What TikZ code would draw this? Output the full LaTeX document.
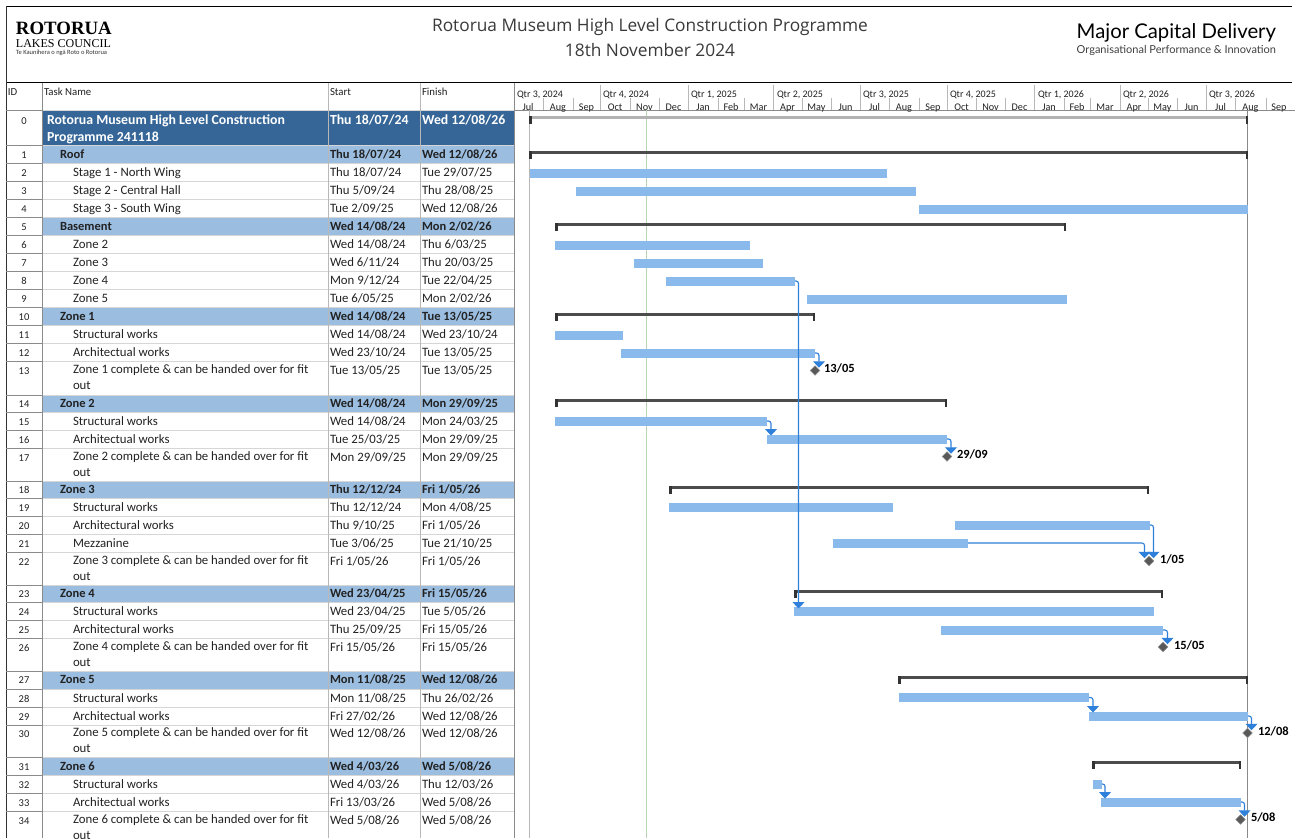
\documentclass[tikz,border=0pt]{standalone}
\usepackage{fontspec}
\setmainfont{Carlito}
\newfontfamily\titlefont{Open Sans}
\newfontfamily\brandfont{Lato}
\newfontfamily\logofont{Liberation Serif}
\usetikzlibrary{shapes.geometric,arrows.meta}
\definecolor{inktext}{HTML}{222222}
\definecolor{titleink}{HTML}{3A3A3A}
\definecolor{rootfill}{HTML}{366697}
\definecolor{sumfill}{HTML}{9ABDE0}
\definecolor{barblue}{HTML}{8ABAEC}
\definecolor{linkblue}{HTML}{2F80DA}
\definecolor{gridlight}{HTML}{D6D6D6}
\definecolor{gridmid}{HTML}{B8B8B8}
\definecolor{griddark}{HTML}{8A8A8A}
\definecolor{todaygreen}{HTML}{B5D8B0}
\tikzset{
  x=1pt,y=-1pt,
  every node/.style={inner sep=0pt,outer sep=0pt,text=inktext},
  tabletext/.style={anchor=north west,align=left,font=\fontsize{12.8}{16}\selectfont,execute at begin node={\rule{0pt}{9pt}}},
  boldtext/.style={tabletext,font=\bfseries\fontsize{12.5}{16}\selectfont},
  roottext/.style={tabletext,text=white,font=\bfseries\fontsize{13.8}{16.5}\selectfont},
  idtext/.style={anchor=north,font=\fontsize{10.5}{12}\selectfont,execute at begin node={\rule{0pt}{9pt}}},
  headtext/.style={anchor=base west,font=\fontsize{10.8}{12}\selectfont},
  timetext/.style={anchor=base,font=\fontsize{10.2}{12}\selectfont},
  taskbar/.style={fill=barblue,minimum height=9pt},
  sumbar/.style={fill=black!70,minimum height=3pt},
  rootbar/.style={fill=black!30,minimum height=3pt},
  milestone/.style={diamond,fill=black!65,draw=black!45,line width=.4pt,minimum width=9.5pt,minimum height=9.5pt},
  milelabel/.style={anchor=west,font=\bfseries\fontsize{12.5}{14}\selectfont,text=black},
  link/.style={linkblue,line width=1.1pt,rounded corners=2.5pt,-{Triangle[width=12pt,length=6.5pt]}},
}
\newcommand{\rowline}[1]{%
  \draw[griddark,line width=.8pt] (6,#1) -- (42,#1);
  \draw[gridlight,line width=.8pt] (42,#1) -- (514,#1);}
% style, id, top, name, start, finish, indent
\newcommand{\trow}[7]{%
  \node[idtext] (id#2) at (24,#3+4) {#2};
  \node[#1] (nm#2) at (#7,#3+4) {#4};
  \node[#1] (st#2) at (330,#3+4) {#5};
  \node[#1] (fi#2) at (422,#3+4) {#6};}
\newcommand{\gtask}[4]{\node[taskbar,minimum width={(#3-#2)*1pt}] (#1) at ({(#2+#3)/2},#4) {};}
\newcommand{\gsum}[5][sumbar]{%
  \node[#1,minimum width={(#4-#3)*1pt}] (#2) at ({(#3+#4)/2},#5) {};
  \fill[black!80] (#2.north west) rectangle ++(2.5,8);
  \fill[black!80] (#2.north east) rectangle ++(-2.5,8);}
\newcommand{\gmile}[5]{%
  \node[milestone] (#1) at (#2,#3) {};
  \node[milelabel] (#1t) at (#4,#3-2) {#5};}
\begin{document}
\begin{tikzpicture}
\useasboundingbox (0,0) rectangle (1295,838);
\fill[white] (0,0) rectangle (1295,838);
% frame
\draw[black,line width=1pt] (6,6.5) -- (1292,6.5);
\draw[black,line width=1pt] (6,82.5) -- (1292,82.5);
\draw[black!80,line width=1pt] (6.5,6) -- (6.5,838);
% header logos and titles
\node[anchor=base west,font=\logofont\bfseries\fontsize{18.8}{20}\selectfont,text=black] (logoa) at (16,34) {ROTORUA};
\node[anchor=base west,font=\logofont\fontsize{12}{12}\selectfont,text=black] (logob) at (16,47) {LAKES COUNCIL};
\node[anchor=base west,font=\fontsize{6.5}{7}\selectfont,text=black!80] (logoc) at (16,54.5) {Te Kaunihera o ngā Roto o Rotorua};
\node[anchor=base,font=\titlefont\fontsize{17.3}{20}\selectfont,text=titleink] (title) at (650,31) {Rotorua Museum High Level Construction Programme};
\node[anchor=base,font=\titlefont\fontsize{17.3}{20}\selectfont,text=titleink] (date) at (650,56) {18th November 2024};
\node[font=\brandfont\fontsize{20.3}{24}\selectfont,text=black,anchor=base east] (brand) at (1276,38) {Major Capital Delivery};
\node[font=\brandfont\fontsize{11}{12}\selectfont,text=black!75,anchor=base east] (brandb) at (1276,53) {Organisational Performance \& Innovation};
% row fills
\fill[rootfill] (43,110) rectangle (514,145);
\foreach \a/\b in {145/163,217/235,307/325,395/412,481/498,585/602,671/689,757/775}
  \fill[sumfill] (43,\a) rectangle (514,\b);
% row lines
\foreach \r in {110,145,163,181,199,217,235,253,271,289,307,325,343,361,395,412,430,448,481,498,516,534,552,585,602,620,638,671,689,707,725,757,775,793,811}
  \rowline{\r}
% column lines
\draw[griddark,line width=1pt] (42.5,83) -- (42.5,838);
\draw[gridmid,line width=1pt] (328,83) -- (328,838);
\draw[gridmid,line width=1pt] (420,83) -- (420,838);
\draw[griddark,line width=1.2pt] (514.5,83) -- (514.5,838);
% timescale
\draw[griddark,line width=.9pt] (515,110) -- (1295,110);
\foreach \x in {600,688,773,860,947,1034,1120,1206}
  \draw[gridmid,line width=.9pt] (\x,85) -- (\x,110);
\foreach \x in {543,573,630,659,718,744,802,831,889,919,976,1005,1064,1090,1148,1177,1235,1266}
  \draw[gridmid,line width=.9pt] (\x,98) -- (\x,110);
\foreach \n/\x/\t in {qa/517/Qtr 3{,} 2024,qb/603/Qtr 4{,} 2024,qc/691/Qtr 1{,} 2025,qd/777/Qtr 2{,} 2025,qe/863/Qtr 3{,} 2025,qf/950/Qtr 4{,} 2025,qg/1038/Qtr 1{,} 2026,qh/1123/Qtr 2{,} 2026,qi/1209/Qtr 3{,} 2026}
  \node[headtext,font=\fontsize{10}{12}\selectfont] (\n) at (\x,97) {\t};
\foreach \n/\x/\t in {ma/528/Jul,mb/558/Aug,mc/586.5/Sep,md/615/Oct,me/644.5/Nov,mf/673.5/Dec,mg/703/Jan,mh/731/Feb,mi/758.5/Mar,mj/787.5/Apr,mk/816.5/May,ml/845.5/Jun,mm/874.5/Jul,mn/904/Aug,mo/933/Sep,mp/961.5/Oct,mq/990.5/Nov,mr/1019.5/Dec,ms/1049/Jan,mt/1077/Feb,mu/1105/Mar,mv/1134/Apr,mw/1162.5/May,mx/1191.5/Jun,my/1220.5/Jul,mz/1250.5/Aug,mA/1279/Sep}
  \node[timetext] (\n) at (\x,110) {\t};
% table header
\node[headtext] (hid) at (8,95) {ID};
\node[headtext] (hname) at (44,95) {Task Name};
\node[headtext] (hstart) at (330,95) {Start};
\node[headtext] (hfin) at (422,95) {Finish};
% rows
\trow{roottext}{0}{111}{Rotorua Museum High Level Construction\\Programme 241118}{Thu 18/07/24}{Wed 12/08/26}{47}
\trow{boldtext}{1}{145}{Roof}{Thu 18/07/24}{Wed 12/08/26}{60}
\trow{tabletext}{2}{163}{Stage 1 - North Wing}{Thu 18/07/24}{Tue 29/07/25}{73}
\trow{tabletext}{3}{181}{Stage 2 - Central Hall}{Thu 5/09/24}{Thu 28/08/25}{73}
\trow{tabletext}{4}{199}{Stage 3 - South Wing}{Tue 2/09/25}{Wed 12/08/26}{73}
\trow{boldtext}{5}{217}{Basement}{Wed 14/08/24}{Mon 2/02/26}{60}
\trow{tabletext}{6}{235}{Zone 2}{Wed 14/08/24}{Thu 6/03/25}{73}
\trow{tabletext}{7}{253}{Zone 3}{Wed 6/11/24}{Thu 20/03/25}{73}
\trow{tabletext}{8}{271}{Zone 4}{Mon 9/12/24}{Tue 22/04/25}{73}
\trow{tabletext}{9}{289}{Zone 5}{Tue 6/05/25}{Mon 2/02/26}{73}
\trow{boldtext}{10}{307}{Zone 1}{Wed 14/08/24}{Tue 13/05/25}{60}
\trow{tabletext}{11}{325}{Structural works}{Wed 14/08/24}{Wed 23/10/24}{73}
\trow{tabletext}{12}{343}{Architectual works}{Wed 23/10/24}{Tue 13/05/25}{73}
\trow{tabletext}{13}{361}{Zone 1 complete \& can be handed over for fit\\out}{Tue 13/05/25}{Tue 13/05/25}{73}
\trow{boldtext}{14}{394}{Zone 2}{Wed 14/08/24}{Mon 29/09/25}{60}
\trow{tabletext}{15}{412}{Structural works}{Wed 14/08/24}{Mon 24/03/25}{73}
\trow{tabletext}{16}{430}{Architectual works}{Tue 25/03/25}{Mon 29/09/25}{73}
\trow{tabletext}{17}{448}{Zone 2 complete \& can be handed over for fit\\out}{Mon 29/09/25}{Mon 29/09/25}{73}
\trow{boldtext}{18}{480}{Zone 3}{Thu 12/12/24}{Fri 1/05/26}{60}
\trow{tabletext}{19}{498}{Structural works}{Thu 12/12/24}{Mon 4/08/25}{73}
\trow{tabletext}{20}{516}{Architectural works}{Thu 9/10/25}{Fri 1/05/26}{73}
\trow{tabletext}{21}{534}{Mezzanine}{Tue 3/06/25}{Tue 21/10/25}{73}
\trow{tabletext}{22}{552}{Zone 3 complete \& can be handed over for fit\\out}{Fri 1/05/26}{Fri 1/05/26}{73}
\trow{boldtext}{23}{584}{Zone 4}{Wed 23/04/25}{Fri 15/05/26}{60}
\trow{tabletext}{24}{602}{Structural works}{Wed 23/04/25}{Tue 5/05/26}{73}
\trow{tabletext}{25}{620}{Architectural works}{Thu 25/09/25}{Fri 15/05/26}{73}
\trow{tabletext}{26}{638}{Zone 4 complete \& can be handed over for fit\\out}{Fri 15/05/26}{Fri 15/05/26}{73}
\trow{boldtext}{27}{670}{Zone 5}{Mon 11/08/25}{Wed 12/08/26}{60}
\trow{tabletext}{28}{689}{Structural works}{Mon 11/08/25}{Thu 26/02/26}{73}
\trow{tabletext}{29}{707}{Architectual works}{Fri 27/02/26}{Wed 12/08/26}{73}
\trow{tabletext}{30}{724}{Zone 5 complete \& can be handed over for fit\\out}{Wed 12/08/26}{Wed 12/08/26}{73}
\trow{boldtext}{31}{757}{Zone 6}{Wed 4/03/26}{Wed 5/08/26}{60}
\trow{tabletext}{32}{775}{Structural works}{Wed 4/03/26}{Thu 12/03/26}{73}
\trow{tabletext}{33}{793}{Architectual works}{Fri 13/03/26}{Wed 5/08/26}{73}
\trow{tabletext}{34}{811}{Zone 6 complete \& can be handed over for fit\\out}{Wed 5/08/26}{Wed 5/08/26}{73}
% chart guide lines
\draw[gridmid,line width=1.3pt] (529.5,110) -- (529.5,838);
\draw[griddark,line width=1pt] (1247.7,110) -- (1247.7,838);
\draw[todaygreen,line width=1pt] (646,110) -- (646,838);
% bars
\gsum[rootbar]{s0}{529}{1248}{117.5}
\gsum{s1}{529}{1248}{152.5}
\gtask{b2}{530}{887}{173}
\gtask{b3}{576}{916}{191}
\gtask{b4}{919}{1248}{209}
\gsum{s5}{555}{1066}{224.5}
\gtask{b6}{555}{750}{245}
\gtask{b7}{634}{763}{263}
\gtask{b8}{666}{795}{281}
\gtask{b9}{807}{1067}{299}
\gsum{s10}{555}{815}{314.5}
\gtask{b11}{555}{623}{335}
\gtask{b12}{621}{815}{353}
\gsum{s14}{555}{947}{400.5}
\gtask{b15}{555}{767}{421}
\gtask{b16}{767}{947}{439}
\gsum{s18}{669}{1149}{487}
\gtask{b19}{669}{893}{507}
\gtask{b20}{955}{1150}{525}
\gtask{b21}{833}{968}{543}
\gsum{s23}{794}{1163}{591.5}
\gtask{b24}{794}{1154}{611}
\gtask{b25}{941}{1163}{630}
\gsum{s27}{898}{1248}{677.5}
\gtask{b28}{899}{1089}{697.5}
\gtask{b29}{1089}{1248}{716}
\gsum{s31}{1092}{1241}{762.5}
\gtask{b32}{1093}{1102}{784}
\gtask{b33}{1101}{1241}{802}
% milestones
\gmile{m13}{815}{370.5}{824}{13/05}
\gmile{m17}{947}{456.5}{957}{29/09}
\gmile{m22}{1149}{561}{1160}{1/05}
\gmile{m26}{1163}{647}{1174}{15/05}
\gmile{m30}{1247.5}{733}{1258}{12/08}
\gmile{m34}{1240.5}{819.5}{1251}{5/08}
% links
\draw[link] (b8.east) -| ([xshift=4.5pt,yshift=-2pt]b24.north west);
\draw[link] (b12.east) -| ([xshift=4pt,yshift=-2pt]m13.north);
\draw[link] (b15.east) -| ([xshift=4pt,yshift=-1pt]b16.north west);
\draw[link] (b16.east) -| ([xshift=4pt,yshift=-2pt]m17.north);
\draw[link] (b20.east) -| ([xshift=4.5pt,yshift=-2pt]m22.north);
\draw[link] (b21.east) -| ([xshift=-4.5pt,yshift=-2pt]m22.north);
\draw[link] (b25.east) -| ([xshift=4.5pt,yshift=-2pt]m26.north);
\draw[link] (b28.east) -| ([xshift=4pt,yshift=-1pt]b29.north west);
\draw[link] (b29.east) -| ([xshift=4pt,yshift=-2pt]m30.north);
\draw[link] (b32.east) -| ([xshift=4pt,yshift=-1pt]b33.north west);
\draw[link] (b33.east) -| ([xshift=4pt,yshift=-2pt]m34.north);
\end{tikzpicture}
\end{document}
